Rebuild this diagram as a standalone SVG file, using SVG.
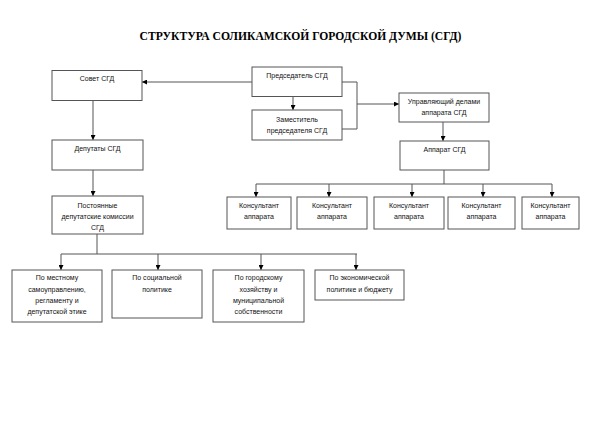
<svg xmlns="http://www.w3.org/2000/svg" width="600" height="424" viewBox="0 0 600 424">
<defs>
<marker id="arr" markerUnits="userSpaceOnUse" markerWidth="6" markerHeight="5" refX="5" refY="2.5" orient="auto">
<path d="M0,0 L5,2.5 L0,5 z" fill="#000"/>
</marker>
</defs>
<style>
.box{fill:#fff;stroke:#555;stroke-width:1}
.t{font-family:"Liberation Sans",Arial,sans-serif;font-size:7px;fill:#111;text-anchor:middle}
.title{font-family:"Liberation Serif","Times New Roman",serif;font-size:11.6px;font-weight:bold;fill:#000;text-anchor:middle}
.c{fill:none;stroke:#555;stroke-width:1}
.a{fill:none;stroke:#555;stroke-width:1;marker-end:url(#arr)}
</style>
<rect width="600" height="424" fill="#fff"/>
<text class="title" x="300.5" y="40">СТРУКТУРА СОЛИКАМСКОЙ ГОРОДСКОЙ ДУМЫ (СГД)</text>
<g id="connectors">
<path class="a" d="M252,82 H142"/>
<path class="a" d="M293,96.5 V110"/>
<path class="c" d="M342,82 H357 V129 H342"/>
<path class="a" d="M357,104 H399"/>
<path class="a" d="M93,100.5 V140"/>
<path class="a" d="M443,122 V141"/>
<path class="c" d="M444,170 V184 M256,184 H552"/>
<path class="a" d="M256,184 V197"/>
<path class="a" d="M329,184 V197"/>
<path class="a" d="M412,184 V197"/>
<path class="a" d="M483,184 V197"/>
<path class="a" d="M552,184 V197"/>
<path class="a" d="M93,170 V196"/>
<path class="c" d="M97,234 V254 M61,254 H357"/>
<path class="a" d="M61,254 V270"/>
<path class="a" d="M158,254 V270"/>
<path class="a" d="M261,254 V270"/>
<path class="a" d="M356,254 V270"/>
</g>
<g id="sovet"><rect class="box" x="52" y="70.5" width="90" height="30"/><text class="t" x="97" y="80.5">Совет СГД</text></g>
<g id="predsedatel"><rect class="box" x="252" y="67" width="90" height="29.5"/><text class="t" x="297" y="77.5">Председатель СГД</text></g>
<g id="zamestitel"><rect class="box" x="252" y="110" width="90" height="30"/><text class="t" x="297" y="121.8">Заместитель</text><text class="t" x="297" y="132.5">председателя СГД</text></g>
<g id="upravl"><rect class="box" x="399" y="93" width="90" height="29"/><text class="t" x="444" y="103.5">Управляющий делами</text><text class="t" x="444" y="115">аппарата СГД</text></g>
<g id="apparat"><rect class="box" x="400" y="141" width="89" height="29"/><text class="t" x="444.5" y="151.5">Аппарат СГД</text></g>
<g id="deputaty"><rect class="box" x="52" y="140" width="91" height="30"/><text class="t" x="97.5" y="151">Депутаты СГД</text></g>
<g id="komissii"><rect class="box" x="52" y="196" width="91" height="38"/><text class="t" x="97.5" y="207.5">Постоянные</text><text class="t" x="97.5" y="218.5">депутатские комиссии</text><text class="t" x="97.5" y="229.5">СГД</text></g>
<g id="kons1"><rect class="box" x="227" y="197" width="64" height="32"/><text class="t" x="259" y="207.5">Консультант</text><text class="t" x="259" y="218.5">аппарата</text></g>
<g id="kons2"><rect class="box" x="297" y="197" width="70" height="32"/><text class="t" x="332" y="207.5">Консультант</text><text class="t" x="332" y="218.5">аппарата</text></g>
<g id="kons3"><rect class="box" x="374" y="197" width="70" height="32"/><text class="t" x="409" y="207.5">Консультант</text><text class="t" x="409" y="218.5">аппарата</text></g>
<g id="kons4"><rect class="box" x="448" y="197" width="67" height="32"/><text class="t" x="481.5" y="207.5">Консультант</text><text class="t" x="481.5" y="218.5">аппарата</text></g>
<g id="kons5"><rect class="box" x="522" y="197" width="57" height="32"/><text class="t" x="550.5" y="207.5">Консультант</text><text class="t" x="550.5" y="218.5">аппарата</text></g>
<g id="kom1"><rect class="box" x="12" y="270" width="90" height="52"/><text class="t" x="57" y="280">По местному</text><text class="t" x="57" y="291.5">самоуправлению,</text><text class="t" x="57" y="302.8">регламенту и</text><text class="t" x="57" y="314">депутатской этике</text></g>
<g id="kom2"><rect class="box" x="112" y="270" width="90" height="48"/><text class="t" x="157" y="280">По социальной</text><text class="t" x="157" y="291.5">политике</text></g>
<g id="kom3"><rect class="box" x="213" y="270" width="91" height="52"/><text class="t" x="258.5" y="280">По городскому</text><text class="t" x="258.5" y="291.5">хозяйству и</text><text class="t" x="258.5" y="302.8">муниципальной</text><text class="t" x="258.5" y="314">собственности</text></g>
<g id="kom4"><rect class="box" x="315" y="270" width="89" height="30"/><text class="t" x="359.5" y="280">По экономической</text><text class="t" x="359.5" y="291.5">политике и бюджету</text></g>
</svg>
